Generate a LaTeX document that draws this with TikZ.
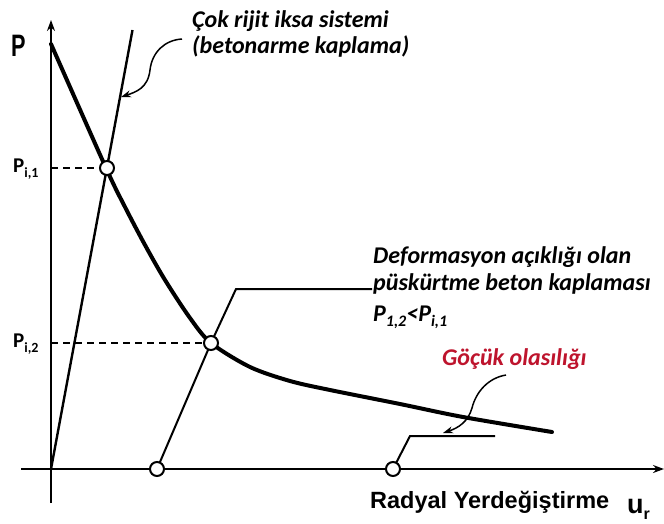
\documentclass[tikz,border=0pt]{standalone}
\usepackage{fontspec}
\setmainfont{Carlito}
\newfontfamily\arialfont{Liberation Sans}
\newfontfamily\annfont{Carlito}
\usetikzlibrary{arrows.meta}
\definecolor{goccolor}{RGB}{190,20,45}
\tikzset{
  axisline/.style={line width=2pt,-{Stealth[length=11pt,width=8pt]}},
  groundcurve/.style={line width=4pt,line cap=round,line join=round},
  stiffline/.style={line width=2.4pt},
  supline/.style={line width=2pt,line join=miter},
  dashline/.style={line width=1.5pt,dash pattern=on 7pt off 5pt},
  ptcircle/.style={circle,draw,line width=2pt,fill=white,minimum size=14pt,inner sep=0pt},
  annarrow/.style={line width=1.5pt,-{Stealth[length=10pt,width=7pt]}},
  anntext/.style={anchor=base west,inner sep=0pt,font=\annfont\bfseries\itshape\fontsize{24}{29}\selectfont},
  axlabel/.style={anchor=base west,inner sep=0pt},
}
\begin{document}
\begin{tikzpicture}[x=1pt,y=-1pt]
\useasboundingbox[fill=white] (0,0) rectangle (664,523);
% axes
\coordinate (O) at (51,469);
\coordinate (ybot) at (51,503);
\coordinate (ytop) at (51,20);
\coordinate (xleft) at (21,469);
\coordinate (xright) at (664,469);
\draw[axisline] (ybot) -- (ytop);
\draw[axisline] (xleft) -- (xright);
% key points
\coordinate (c1pos) at (107,168);
\coordinate (c2pos) at (211,343);
\coordinate (c3pos) at (157,469);
\coordinate (c4pos) at (393,469);
\coordinate (stifftop) at (132.5,30);
\coordinate (sbend) at (236,289);
\coordinate (send) at (372,289);
\coordinate (gbend) at (410,436);
\coordinate (gend) at (495,436);
% dashed guide lines
\coordinate (p1ax) at (51,168);
\coordinate (p2ax) at (51,343);
\draw[dashline] (p1ax) -- (c1pos);
\draw[dashline] (p2ax) -- (c2pos);
% stiff support line
\draw[stiffline] (O) -- (stifftop);
% shotcrete support line
\draw[supline] (c3pos) -- (c2pos) -- (sbend) -- (send);
% collapse line
\draw[supline] (c4pos) -- (gbend) -- (gend);
% ground reaction curve
\draw[groundcurve] plot[smooth,tension=0.5] coordinates {(51,44) (106,168) (125,207) (145,245) (165,280) (190,318) (211,343) (250,367) (290,381) (330,390) (400,404) (463,417) (552,432)};
% circles
\node[ptcircle] (c1) at (c1pos) {};
\node[ptcircle] (c2) at (c2pos) {};
\node[ptcircle] (c3) at (c3pos) {};
\node[ptcircle] (c4) at (c4pos) {};
% axis labels
\node[axlabel,font=\arialfont\bfseries\fontsize{31}{31}\selectfont] (plabel) at (11,56) {\scalebox{0.7}[1]{P}};
\node[axlabel,font=\bfseries\fontsize{21}{21}\selectfont] (pi1) at (13,172) {P\raisebox{-5pt}{\fontsize{14}{14}\selectfont i,1}};
\node[axlabel,font=\bfseries\fontsize{21}{21}\selectfont] (pi2) at (13,347) {P\raisebox{-5pt}{\fontsize{14}{14}\selectfont i,2}};
\node[axlabel,font=\arialfont\bfseries\fontsize{23.5}{23.5}\selectfont] (xlab) at (370,508) {Radyal Yerdeğiştirme};
\node[axlabel,font=\arialfont\bfseries\fontsize{27}{27}\selectfont] (ur) at (627,513) {u\raisebox{-6pt}{\fontsize{16}{16}\selectfont r}};
% annotations
\node[anntext] (rigid1) at (192,27) {Çok rijit iksa sistemi};
\node[anntext] (rigid2) at (192,53) {(betonarme kaplama)};
\node[anntext] (shot1) at (373,263) {Deformasyon açıklığı olan};
\node[anntext] (shot2) at (373,290) {püskürtme beton kaplaması};
\node[anntext] (shot3) at (373,321) {P\raisebox{-5pt}{\fontsize{16}{16}\selectfont 1,2}<P\raisebox{-5pt}{\fontsize{16}{16}\selectfont i,1}};
\node[anntext,text=goccolor] (goc) at (442,365) {Göçük olasılığı};
% annotation arrows
\coordinate (a1s) at (182,39);
\coordinate (a1m) at (150,70);
\coordinate (a1e) at (121,97);
\draw[annarrow] (a1s) .. controls (165,40) and (152,52) .. (a1m) .. controls (148,88) and (136,92) .. (a1e);
\coordinate (a2s) at (506,375);
\coordinate (a2m) at (472,408);
\coordinate (a2e) at (443,433);
\draw[annarrow] (a2s) .. controls (488,378) and (476,392) .. (a2m) .. controls (468,422) and (458,428) .. (a2e);
\end{tikzpicture}
\end{document}
